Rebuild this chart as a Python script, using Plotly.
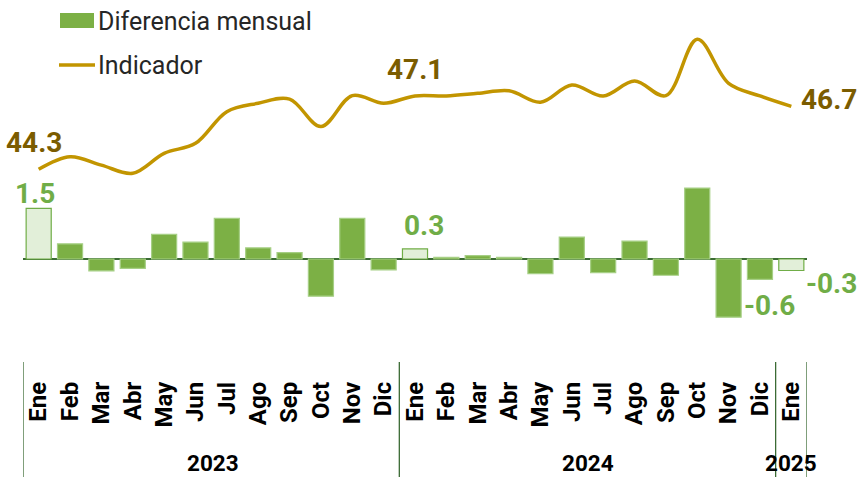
import plotly.graph_objects as go

months = ["Ene", "Feb", "Mar", "Abr", "May", "Jun", "Jul", "Ago", "Sep", "Oct", "Nov", "Dic",
          "Ene", "Feb", "Mar", "Abr", "May", "Jun", "Jul", "Ago", "Sep", "Oct", "Nov", "Dic",
          "Ene"]
year_labels = ["2023", "2024", "2025"]
year_spans = [(0, 11), (12, 23), (24, 24)]

diferencia = [1.5, 0.45, -0.35, -0.28, 0.73, 0.5, 1.2, 0.33, 0.19, -1.1, 1.2, -0.32,
              0.3, 0.05, 0.1, 0.05, -0.43, 0.65, -0.4, 0.53, -0.48, 2.1, -1.72, -0.6,
              -0.34]
indicador = [44.3, 44.78, 44.46, 44.15, 44.91, 45.29, 46.5, 46.82, 46.98, 45.93, 47.11, 46.82,
             47.1, 47.1, 47.2, 47.3, 46.86, 47.52, 47.1, 47.67, 47.11, 49.26, 47.58, 47.1,
             46.7]
highlight = [0, 12, 24]

x = list(range(len(months)))

GREEN = "#7cb045"
GREEN_EDGE = "#a6cf85"
LIGHT = "#e2efd9"
GOLD = "#c29500"
OLIVE = "#7b5c00"
LBL_GREEN = "#70ad47"
AXIS_GREEN = "#3b6b34"

fills = [LIGHT if i in highlight else GREEN for i in x]
edges = [LBL_GREEN if i in highlight else GREEN_EDGE for i in x]

fig = go.Figure()
fig.add_trace(go.Bar(x=x, y=diferencia, marker=dict(color=fills, line=dict(color=edges, width=1.2)),
                     yaxis="y", showlegend=False, hoverinfo="skip"))
fig.add_trace(go.Scatter(x=x, y=indicador, mode="lines", yaxis="y2",
                         line=dict(color=GOLD, width=3.5, shape="spline", smoothing=1.0),
                         showlegend=False, hoverinfo="skip"))

NUMFONT = dict(family="Roboto", size=28, weight="bold")

ann = []
# line labels
for i, xs, ys, xa in [(0, -5, 27, "center"), (12, 0, 26, "center"), (24, 8, 7, "left")]:
    ann.append(dict(x=i, y=indicador[i], xref="x", yref="y2", text=f"{indicador[i]:.1f}",
                    showarrow=False, xshift=xs, yshift=ys, xanchor=xa, yanchor="middle",
                    font=dict(NUMFONT, color=OLIVE)))
# bar labels
for i, xs, ys in [(0, -4, 15), (12, 9, 23), (23, 10, -26), (24, 40, -13)]:
    ann.append(dict(x=i, y=diferencia[i], xref="x", yref="y", text=f"{diferencia[i]:.1f}",
                    showarrow=False, xshift=xs, yshift=ys, xanchor="center", yanchor="middle",
                    font=dict(NUMFONT, color=LBL_GREEN)))
# year labels
for lab, (a, b), xs in zip(year_labels, year_spans, [2, 1, 0]):
    ann.append(dict(x=(a + b) / 2, y=0, xref="x", yref="paper", text=lab, showarrow=False,
                    xshift=xs, yshift=-101, xanchor="center", yanchor="middle",
                    font=dict(family="Roboto", size=22.5, weight="bold", color="#000000")))
# legend texts
ann.append(dict(x=96, y=21.5, xref="paper", yref="paper", text="Diferencia mensual", showarrow=False,
                xanchor="left", yanchor="middle", font=dict(family="Roboto", size=25, color="#262626")))
ann.append(dict(x=96, y=65, xref="paper", yref="paper", text="Indicador", showarrow=False,
                xanchor="left", yanchor="middle", font=dict(family="Roboto", size=25, color="#262626")))

W, H = 859, 477
L, R, T, B = 23, 52, 0, 115
PW, PH = W - L - R, H - T - B


def px(v):
    return (v - L) / PW


def py(v):
    return (PH + T - v) / PH


for a in ann:
    if a["xref"] == "paper":
        a["x"] = px(a["x"])
        a["y"] = py(a["y"])

shapes = []
# legend symbols
shapes.append(dict(type="rect", xref="paper", yref="paper", x0=px(60), x1=px(94), y0=py(28), y1=py(13),
                   fillcolor=GREEN, line=dict(width=0)))
shapes.append(dict(type="line", xref="paper", yref="paper", x0=px(59), x1=px(95), y0=py(65), y1=py(65),
                   line=dict(color=GOLD, width=3.5)))
# group separators
for sx in [-0.5, 11.5, 23.5, 24.5]:
    shapes.append(dict(type="line", xref="x", yref="paper", x0=sx, x1=sx, y0=0, y1=py(477),
                       line=dict(color=AXIS_GREEN, width=1.3)))

fig.update_layout(
    width=W, height=H,
    margin=dict(l=L, r=R, t=T, b=B, pad=0),
    paper_bgcolor="white", plot_bgcolor="white",
    bargap=0.2,
    xaxis=dict(range=[-0.5, 24.5], tickmode="array", tickvals=x, ticktext=months, tickangle=-90,
               showgrid=False, zeroline=False, showline=False, ticks="", ticklabelstandoff=14,
               automargin=False,
               tickfont=dict(family="Roboto", size=24, weight="bold", color="#000000")),
    yaxis=dict(range=[-3.047, 7.663], visible=True, showgrid=False, showticklabels=False,
               zeroline=True, zerolinecolor=AXIS_GREEN, zerolinewidth=2, showline=False),
    yaxis2=dict(range=[36.945, 50.762], overlaying="y", visible=False),
    annotations=ann, shapes=shapes, showlegend=False,
)

fig.write_html("out.html", config={"displayModeBar": False},
               post_script="document.body.style.margin='0';document.body.style.overflow='hidden';")
